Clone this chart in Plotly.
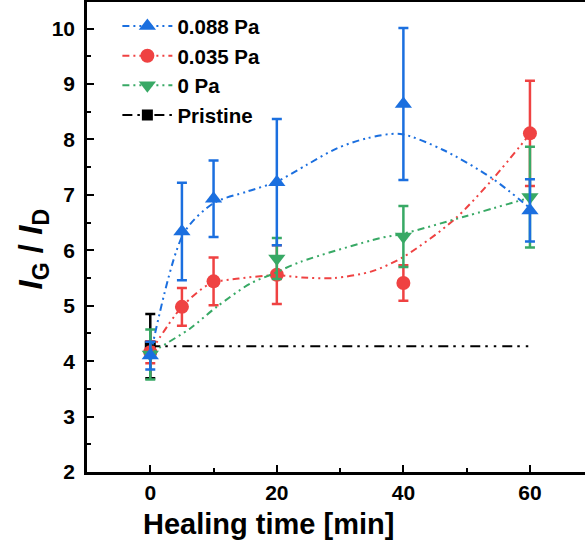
import plotly.graph_objects as go

# ---- data ----
time_all = [0, 5, 10, 20, 40, 60]
time_green = [0, 20, 40, 60]

y_088 = [4.10, 6.34, 6.93, 7.23, 8.64, 6.72]
e_088 = [0.25, 0.88, 0.69, 1.14, 1.37, 0.56]

y_035 = [4.16, 4.98, 5.44, 5.56, 5.41, 8.11]
e_035 = [0.20, 0.34, 0.43, 0.53, 0.32, 0.95]

y_0 = [4.12, 5.85, 6.25, 6.96]
e_0 = [0.45, 0.37, 0.55, 0.91]

x_pristine = [0]
y_pristine = [4.27]
e_pristine = [0.58]
x_pristine_line = [0, 60]
y_pristine_line = [4.27, 4.27]

# smoothed guide curves
cx_088 = [0, 5.3, 10, 15.3, 20, 24.7, 29.5, 34.2, 39.5, 46.3, 54, 60]
cy_088 = [4.10, 6.31, 6.85, 7.06, 7.24, 7.54, 7.84, 8.02, 8.10, 7.81, 7.30, 6.76]
cx_035 = [0, 5, 9.5, 14, 20, 24, 29, 35, 40, 48, 54, 60]
cy_035 = [4.16, 4.98, 5.40, 5.49, 5.55, 5.51, 5.50, 5.62, 5.88, 6.55, 7.27, 8.10]
cx_0 = [0, 1.6, 6.3, 10.5, 15.8, 19.5, 23.7, 36.3, 40, 50, 60]
cy_0 = [4.12, 4.25, 4.59, 4.98, 5.40, 5.58, 5.79, 6.22, 6.30, 6.62, 6.95]

BLUE = "#1b6fdf"
RED = "#ef4242"
GREEN = "#38a965"
BLACK = "#000000"
FONT = "Liberation Sans, Arial, sans-serif"
DASH = "7px,4px,2px,4px,2px,4px"
DASHK = "10px,5px,2.5px,6px,2.5px,6px"

fig = go.Figure()

# pristine
fig.add_trace(go.Scatter(x=x_pristine_line, y=y_pristine_line, mode="lines",
                         line=dict(color=BLACK, width=2, dash=DASHK),
                         showlegend=False, hoverinfo="skip"))
fig.add_trace(go.Scatter(x=x_pristine, y=y_pristine, mode="markers",
                         marker=dict(symbol="square", size=11, color=BLACK),
                         error_y=dict(type="data", array=e_pristine, color=BLACK,
                                      thickness=2.5, width=5),
                         showlegend=False))

def add_series(cx, cy, x, y, e, color, sym, size, name):
    fig.add_trace(go.Scatter(x=cx, y=cy, mode="lines", line_shape="spline",
                             line=dict(color=color, width=2, dash=DASH, smoothing=0.8),
                             showlegend=False, hoverinfo="skip"))
    fig.add_trace(go.Scatter(x=x, y=y, mode="markers",
                             marker=dict(symbol=sym, size=size, color=color),
                             error_y=dict(type="data", array=e, color=color,
                                          thickness=2.5, width=5),
                             showlegend=False, name=name))

add_series(cx_035, cy_035, time_all, y_035, e_035, RED, "circle", 14, "0.035 Pa")
add_series(cx_0, cy_0, time_green, y_0, e_0, GREEN, "triangle-down", 15, "0 Pa")
add_series(cx_088, cy_088, time_all, y_088, e_088, BLUE, "triangle-up", 15, "0.088 Pa")

# legend entries
for name, color, sym, size, dash in [("0.088 Pa", BLUE, "triangle-up", 15, DASH),
                                     ("0.035 Pa", RED, "circle", 14, DASH),
                                     ("0 Pa", GREEN, "triangle-down", 15, DASH),
                                     ("Pristine", BLACK, "square", 11, DASHK)]:
    fig.add_trace(go.Scatter(x=[None], y=[None], mode="lines+markers", name=name,
                             line=dict(color=color, width=2, dash=dash),
                             marker=dict(symbol=sym, size=size, color=color)))

fig.update_layout(
    width=585, height=544,
    margin=dict(l=87, r=0, t=2, b=72),
    plot_bgcolor="white", paper_bgcolor="white",
    font=dict(family=FONT, color="black", size=21),
    showlegend=True,
    legend=dict(x=0.061, y=0.991, xanchor="left", yanchor="top",
                bgcolor="rgba(0,0,0,0)", font=dict(family=FONT, size=20.5, weight="bold"),
                tracegroupgap=0, itemwidth=50),
    xaxis=dict(range=[-10, 68.7], tickvals=[0, 20, 40, 60],
               ticks="inside", ticklen=7, tickwidth=2, tickcolor="black",
               minor=dict(dtick=10, tick0=0, ticks="inside", ticklen=4, tickwidth=2, tickcolor="black"),
               showline=True, linewidth=2.5, linecolor="black", mirror=True,
               showgrid=False, zeroline=False,
               tickfont=dict(family=FONT, size=21, weight="bold")),
    yaxis=dict(range=[2, 10.48], tickvals=[2, 3, 4, 5, 6, 7, 8, 9, 10],
               ticks="inside", ticklen=7, tickwidth=2, tickcolor="black",
               minor=dict(dtick=0.5, tick0=0, ticks="inside", ticklen=4, tickwidth=2, tickcolor="black"),
               showline=True, linewidth=2.5, linecolor="black", mirror=False,
               showgrid=False, zeroline=False, ticklabelstandoff=5,
               tickfont=dict(family=FONT, size=21, weight="bold")),
)

fig.add_annotation(text="<b>Healing time [min]</b>", xref="paper", yref="paper",
                   x=0.3635, y=-0.11, xanchor="center", yanchor="middle",
                   showarrow=False, font=dict(family=FONT, size=29, color="black"))
fig.add_annotation(text="<b><i>I</i><sub>G</sub> / <i>I</i><sub>D</sub></b>",
                   xref="paper", yref="paper", x=-0.108, y=0.474,
                   xanchor="center", yanchor="middle", textangle=-90,
                   showarrow=False, font=dict(family=FONT, size=33, color="black"))

fig.write_html("out.html", config={"displayModeBar": False},
               post_script="document.body.style.margin='0px';document.body.style.overflow='hidden';")
